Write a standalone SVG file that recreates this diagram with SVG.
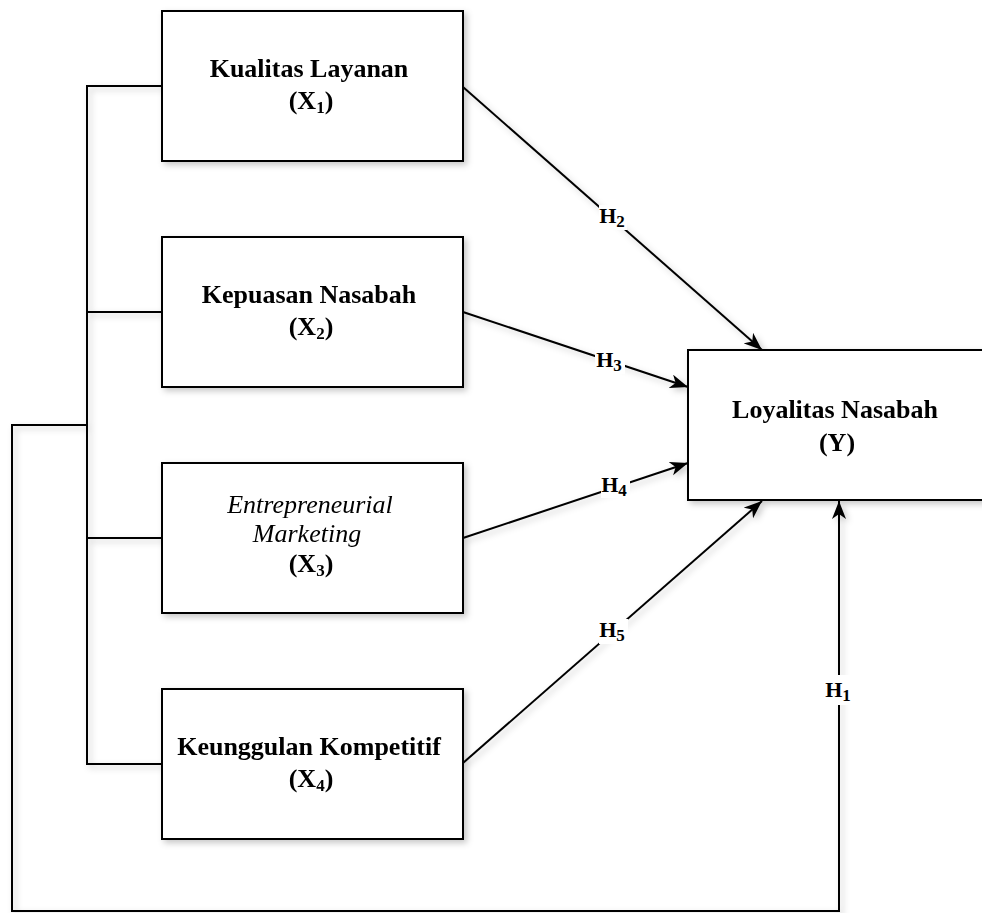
<svg xmlns="http://www.w3.org/2000/svg" width="982" height="913" viewBox="0 0 982 913">
<style>
.box{fill:#fff;stroke:#000;stroke-width:2}
.ln{fill:none;stroke:#000;stroke-width:2}
.t{font-family:"Liberation Serif","Times New Roman",serif;font-size:26px;font-weight:bold;fill:#000;text-anchor:middle}
.ti{font-family:"Liberation Serif","Times New Roman",serif;font-size:26px;font-style:italic;fill:#000;text-anchor:middle}
.h{font-family:"Liberation Serif","Times New Roman",serif;font-size:22px;font-weight:bold;fill:#000;text-anchor:middle}
.sub{font-size:17px}
.bg{fill:#fff}
</style>
<defs>
<filter id="sh" x="-10%" y="-10%" width="130%" height="130%">
<feDropShadow dx="3" dy="3" stdDeviation="3" flood-color="#000" flood-opacity="0.22"/>
</filter>
<marker id="arr" markerUnits="userSpaceOnUse" markerWidth="19" markerHeight="15" refX="18" refY="7" orient="auto">
<path d="M0,0 L18,7 L0,14 L5,7 Z" fill="#000"/>
</marker>
</defs>
<g id="connectors" filter="url(#sh)">
<path class="ln" d="M162,86 H87 V764 H162 M87,312 H162 M87,538 H162 M87,425 H12 V911 H839 V501" marker-end="url(#arr)"/>
<path class="ln" d="M463,87 L762,350" marker-end="url(#arr)"/>
<path class="ln" d="M463,312 L688,387" marker-end="url(#arr)"/>
<path class="ln" d="M463,538 L688,463" marker-end="url(#arr)"/>
<path class="ln" d="M463,763 L762,501" marker-end="url(#arr)"/>
</g>
<g id="labels">
<rect class="bg" x="599" y="205" width="28" height="25"/>
<text class="h" x="612" y="223">H<tspan class="sub" dy="4">2</tspan></text>
<rect class="bg" x="595" y="352" width="30" height="22"/>
<text class="h" x="609" y="367">H<tspan class="sub" dy="4">3</tspan></text>
<rect class="bg" x="601" y="474" width="29" height="24"/>
<text class="h" x="614" y="492">H<tspan class="sub" dy="4">4</tspan></text>
<rect class="bg" x="599" y="619" width="29" height="25"/>
<text class="h" x="612" y="637">H<tspan class="sub" dy="4">5</tspan></text>
<rect class="bg" x="822" y="675" width="32" height="30"/>
<text class="h" x="838" y="697">H<tspan class="sub" dy="4">1</tspan></text>
</g>
<g id="x1" filter="url(#sh)">
<rect class="box" x="162" y="11" width="301" height="150"/>
<text class="t" x="309" y="77">Kualitas Layanan</text>
<text class="t" x="311" y="109">(X<tspan class="sub" dy="4">1</tspan><tspan dy="-4">)</tspan></text>
</g>
<g id="x2" filter="url(#sh)">
<rect class="box" x="162" y="237" width="301" height="150"/>
<text class="t" x="309" y="303">Kepuasan Nasabah</text>
<text class="t" x="311" y="335">(X<tspan class="sub" dy="4">2</tspan><tspan dy="-4">)</tspan></text>
</g>
<g id="x3" filter="url(#sh)">
<rect class="box" x="162" y="463" width="301" height="150"/>
<text class="ti" x="310" y="513">Entrepreneurial</text>
<text class="ti" x="307" y="542">Marketing</text>
<text class="t" x="311" y="572">(X<tspan class="sub" dy="4">3</tspan><tspan dy="-4">)</tspan></text>
</g>
<g id="x4" filter="url(#sh)">
<rect class="box" x="162" y="689" width="301" height="150"/>
<text class="t" x="309" y="755">Keunggulan Kompetitif</text>
<text class="t" x="311" y="787">(X<tspan class="sub" dy="4">4</tspan><tspan dy="-4">)</tspan></text>
</g>
<g id="y" filter="url(#sh)">
<rect class="box" x="688" y="350" width="300" height="150"/>
<text class="t" x="835" y="418">Loyalitas Nasabah</text>
<text class="t" x="837" y="451">(Y)</text>
</g>
</svg>
